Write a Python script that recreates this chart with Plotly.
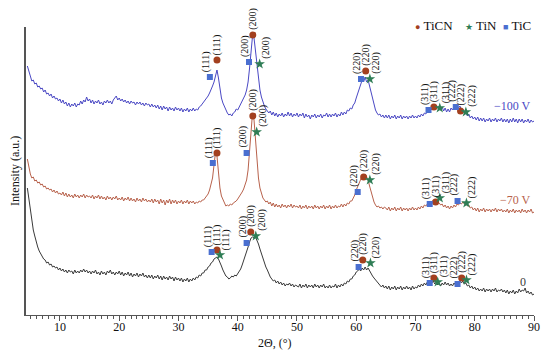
import numpy as np
import plotly.graph_objects as go

# ---------------- data (2θ grid, 0.25° step from 4.5° to 90°) ----------------
two_theta = np.arange(4.5, 90.001, 0.25)

intensity_m100 = [
    249,243,238,234,235,231,232,228,229,226,227,223,225,221,222,219,221,217,219,216,217,214,216,
    212,215,211,213,209,212,208,211,209,212,208,211,210,214,211,215,213,218,214,216,
    212,215,211,214,212,215,211,213,210,214,212,215,212,214,211,215,217,219,215,217,
    214,216,213,215,212,214,211,214,212,213,210,213,211,213,210,212,209,212,210,211,
    208,211,208,210,207,210,206,209,205,209,206,208,204,208,205,207,204,208,205,207,
    204,207,203,206,204,207,203,206,204,207,204,206,205,208,209,211,212,215,216,219,
    222,225,229,233,239,245,237,225,217,212,208,205,202,200,201,199,202,203,206,205,
    208,210,213,216,220,225,233,247,265,279,277,263,249,235,225,218,213,209,206,204,
    202,204,200,203,199,202,198,201,199,202,198,201,199,203,199,202,198,201,199,202,
    198,201,199,202,197,201,198,200,196,200,198,201,197,200,198,201,197,200,199,202,
    198,201,198,201,199,202,198,201,199,203,200,203,201,205,204,207,206,210,212,217,
    221,226,230,235,233,238,233,235,229,223,215,209,205,202,200,201,198,200,197,200,
    197,200,196,199,197,200,196,199,197,200,196,199,197,199,196,199,197,200,197,199,
    197,200,198,201,199,202,201,204,203,207,205,209,206,210,207,209,205,208,204,207,
    203,206,203,207,205,208,206,210,207,209,205,206,202,203,199,201,197,199,196,198,
    195,198,194,197,194,197,193,196,194,197,193,196,194,197,193,196,194,197,193,196,
    193,196,192,196,193,197,193,196,192,196,193,196,192,195,193,196,192,195,193,194,
]

intensity_m70 = [
    156,148,141,137,138,134,135,132,133,130,131,128,129,126,127,125,126,123,125,122,124,121,122,
    120,123,119,122,118,121,118,120,117,121,118,120,117,120,118,121,117,120,118,119,
    117,120,116,119,117,120,116,119,116,118,115,119,116,118,115,118,116,119,115,117,
    115,118,114,117,115,118,114,117,114,116,113,117,114,116,113,117,114,116,113,115,
    113,116,112,116,113,115,111,116,112,115,110,115,112,116,111,115,112,115,111,114,
    112,115,111,114,112,115,111,114,112,114,111,113,112,114,113,115,115,117,118,121,
    125,130,137,150,163,159,140,127,119,115,111,109,110,109,111,110,112,113,114,116,
    118,120,123,126,130,135,145,165,190,202,195,175,155,137,127,121,117,115,113,114,
    111,113,109,112,108,111,108,110,107,111,108,110,107,110,108,111,107,110,108,109,
    107,110,106,109,107,110,106,109,107,109,106,110,107,109,106,109,107,110,106,109,
    107,110,106,109,107,110,107,109,108,111,108,111,109,112,111,114,114,117,120,125,
    129,133,137,139,137,141,138,135,129,123,117,113,110,108,109,107,108,106,108,107,
    105,108,104,107,105,108,104,107,105,108,104,107,105,107,104,107,105,108,105,107,
    105,108,106,109,107,110,109,111,110,112,111,115,114,116,113,112,110,111,108,110,
    107,109,106,109,107,110,108,111,110,112,111,113,111,112,109,110,107,108,105,107,
    104,107,103,106,104,107,103,106,104,106,103,106,104,107,103,106,104,106,103,105,
    103,106,102,105,103,106,102,105,103,105,102,106,103,105,102,105,103,106,102,103,
]

intensity_0 = [
    127,115,103,93,85,79,72,68,64,61,59,56,55,52,53,50,51,48,49,47,48,45,47,
    44,46,43,45,42,45,43,44,41,45,42,44,42,45,43,46,43,45,42,44,
    41,44,42,45,41,43,40,44,41,43,40,44,42,45,41,43,40,43,41,44,
    40,43,39,42,40,43,39,42,38,41,39,42,38,41,39,42,38,40,37,40,
    37,40,36,39,37,40,36,39,35,39,36,38,35,39,36,38,34,38,35,37,
    34,37,33,36,34,37,33,36,34,37,35,38,37,40,39,42,42,45,45,48,
    49,52,53,56,57,58,56,53,49,45,42,39,38,36,37,39,38,40,39,41,
    43,46,50,54,58,63,68,73,77,78,77,78,75,71,66,61,56,52,48,45,
    41,38,36,34,35,32,34,31,33,30,32,29,31,30,32,29,31,28,30,29,
    28,31,27,30,28,31,27,30,28,30,27,31,28,30,27,30,28,31,27,29,
    27,30,27,29,28,31,27,30,28,31,29,32,31,34,33,36,36,39,40,43,
    44,46,44,47,45,48,45,47,44,42,39,37,35,33,31,30,28,30,27,29,
    26,29,25,28,26,29,25,28,26,29,25,28,26,29,26,28,25,29,26,28,
    27,30,28,31,29,32,30,33,31,34,32,34,31,33,30,32,29,32,30,33,
    30,32,29,31,29,32,30,33,31,34,32,34,31,32,29,30,27,29,26,28,
    25,27,24,26,24,27,23,26,24,26,23,26,24,27,23,25,24,26,23,25,
    22,25,21,24,22,25,21,24,22,26,23,25,24,27,22,24,21,23,20,21,
]

sample_names = ["−100 V", "−70 V", "0"]

# Peak markers: positions (2θ) and heights for each phase and sample
ticn_x_m100 = [36.5, 42.55, 61.6, 73.1, 77.6]
ticn_y_m100 = [255, 280, 244, 208, 204]
ticn_hkl_m100 = ["(111)", "(200)", "(220)", "(311)", "(222)"]
tin_x_m100 = [43.7, 62.3, 74.1, 78.5]
tin_y_m100 = [251, 236, 207, 203]
tin_hkl_m100 = ["(200)", "(220)", "(311)", "(222)"]
tic_x_m100 = [35.3, 41.9, 60.8, 72.2, 76.8]
tic_y_m100 = [238, 253, 236, 205, 208]
tic_hkl_m100 = ["(111)", "(200)", "(220)", "(311)", "(222)"]

ticn_x_m70 = [36.5, 42.55, 61.25, 73.4]
ticn_y_m70 = [162, 199, 138, 113]
ticn_hkl_m70 = ["(111)", "(200)", "(220)", "(311)"]
tin_x_m70 = [43.2, 62.3, 74.1, 78.6]
tin_y_m70 = [183, 135, 117, 112]
tin_hkl_m70 = ["(200)", "(220)", "(311)", "(222)"]
tic_x_m70 = [35.8, 41.5, 60.25, 72.4, 77.1]
tic_y_m70 = [152, 162, 123, 111, 114]
tic_hkl_m70 = ["(111)", "(200)", "(220)", "(311)", "(222)"]

ticn_x_0 = [36.5, 42.2, 61.1, 73.1, 77.8]
ticn_y_0 = [65, 83, 55, 37, 37]
ticn_hkl_0 = ["(111)", "(200)", "(220)", "(311)", "(222)"]
tin_x_0 = [37.0, 43.05, 62.4, 73.75, 78.6]
tin_y_0 = [60, 79, 52, 33, 35]
tin_hkl_0 = ["(111)", "(200)", "(220)", "(311)", "(222)"]
tic_x_0 = [35.6, 41.5, 60.4, 72.4, 77.1]
tic_y_0 = [63, 72, 48, 32, 31]
tic_hkl_0 = ["(111)", "(200)", "(220)", "(311)", "(222)"]

# sample label positions
label_x = [86.4, 86.9, 88.2]
label_y = [209, 115, 33]

# ---------------- styles ----------------
line_colors = ["#4a48c4", "#b8624c", "#3a3a3a"]
c_ticn, c_tin, c_tic = "#a3401f", "#2f7d55", "#4a6fd0"
serif = "Liberation Serif"

fig = go.Figure()
for ys, col in zip([intensity_m100, intensity_m70, intensity_0], line_colors):
    n = len(ys)
    fig.add_trace(go.Scatter(x=two_theta[:n], y=ys, mode="lines",
                             line=dict(color=col, width=1), showlegend=False,
                             hoverinfo="skip"))

phases = [
    ("TiCN", c_ticn, "circle", 7, 0,
     [(ticn_x_m100, ticn_y_m100, ticn_hkl_m100), (ticn_x_m70, ticn_y_m70, ticn_hkl_m70), (ticn_x_0, ticn_y_0, ticn_hkl_0)]),
    ("TiN", c_tin, "star", 8, 6,
     [(tin_x_m100, tin_y_m100, tin_hkl_m100), (tin_x_m70, tin_y_m70, tin_hkl_m70), (tin_x_0, tin_y_0, tin_hkl_0)]),
    ("TiC", c_tic, "square", 6, -4,
     [(tic_x_m100, tic_y_m100, tic_hkl_m100), (tic_x_m70, tic_y_m70, tic_hkl_m70), (tic_x_0, tic_y_0, tic_hkl_0)]),
]

annotations = []
for name, col, sym, size, xs_shift, groups in phases:
    for (px, py, hkl) in groups:
        fig.add_trace(go.Scatter(x=px, y=py, mode="markers", cliponaxis=False,
                                 marker=dict(color=col, symbol=sym, size=size, line=dict(width=0)),
                                 showlegend=False, hoverinfo="skip"))
        for xv, yv, t in zip(px, py, hkl):
            annotations.append(dict(x=xv, y=yv, xref="x", yref="y", text=t, showarrow=False,
                                    textangle=-90, xanchor="center", yanchor="bottom",
                                    yshift=3, xshift=xs_shift,
                                    font=dict(family=serif, size=10, color="#111111")))

for t, xv, yv, col in zip(sample_names, label_x, label_y, line_colors):
    annotations.append(dict(x=xv, y=yv, xref="x", yref="y", text=t, showarrow=False,
                            xanchor="center", yanchor="middle",
                            font=dict(family=serif, size=12, color=col)))

# legend (drawn as text with glyphs)
legend_items = [("TiCN", c_ticn, "●", 0.762), ("TiN", c_tin, "★", 0.86), ("TiC", c_tic, "■", 0.935)]
for t, col, g, xp in legend_items:
    annotations.append(dict(x=xp, y=1.004, xref="paper", yref="paper", xanchor="left",
                            yanchor="middle", showarrow=False,
                            text=f"<span style='color:{col};font-size:9px'>{g}</span> {t}",
                            font=dict(family=serif, size=13, color="#111111")))

# axis titles
annotations.append(dict(x=0.49, y=-0.097, xref="paper", yref="paper", showarrow=False,
                        xanchor="center", yanchor="middle",
                        text="2Θ, (°)", font=dict(family=serif, size=12, color="#111111")))
annotations.append(dict(x=-0.0217, y=0.5, xref="paper", yref="paper", showarrow=False,
                        xanchor="center", yanchor="middle",
                        text="Intensity (a.u.)", textangle=-90,
                        font=dict(family=serif, size=12, color="#111111")))

# the page body adds an 8px offset; margins compensate for it
fig.update_layout(
    width=550, height=357,
    margin=dict(l=18, r=24, t=19, b=50, autoexpand=False),
    paper_bgcolor="white", plot_bgcolor="white",
    font=dict(family=serif, size=12, color="#111111"),
    annotations=annotations,
    showlegend=False,
    xaxis=dict(range=[4.27, 90], showline=True, linecolor="#555555", linewidth=1,
               ticks="outside", ticklen=5, tickcolor="#555555", tick0=0, dtick=10,
               minor=dict(dtick=1, ticks="outside", ticklen=3, tickcolor="#555555"),
               showgrid=False, zeroline=False, automargin=False, ticklabelstandoff=-4,
               tickfont=dict(family=serif, size=12, color="#111111")),
    yaxis=dict(range=[0, 288], showline=True, linecolor="#555555", linewidth=1.5,
               showticklabels=False, ticks="", showgrid=False, zeroline=False,
               automargin=False),
)

fig.write_html("out.html")
